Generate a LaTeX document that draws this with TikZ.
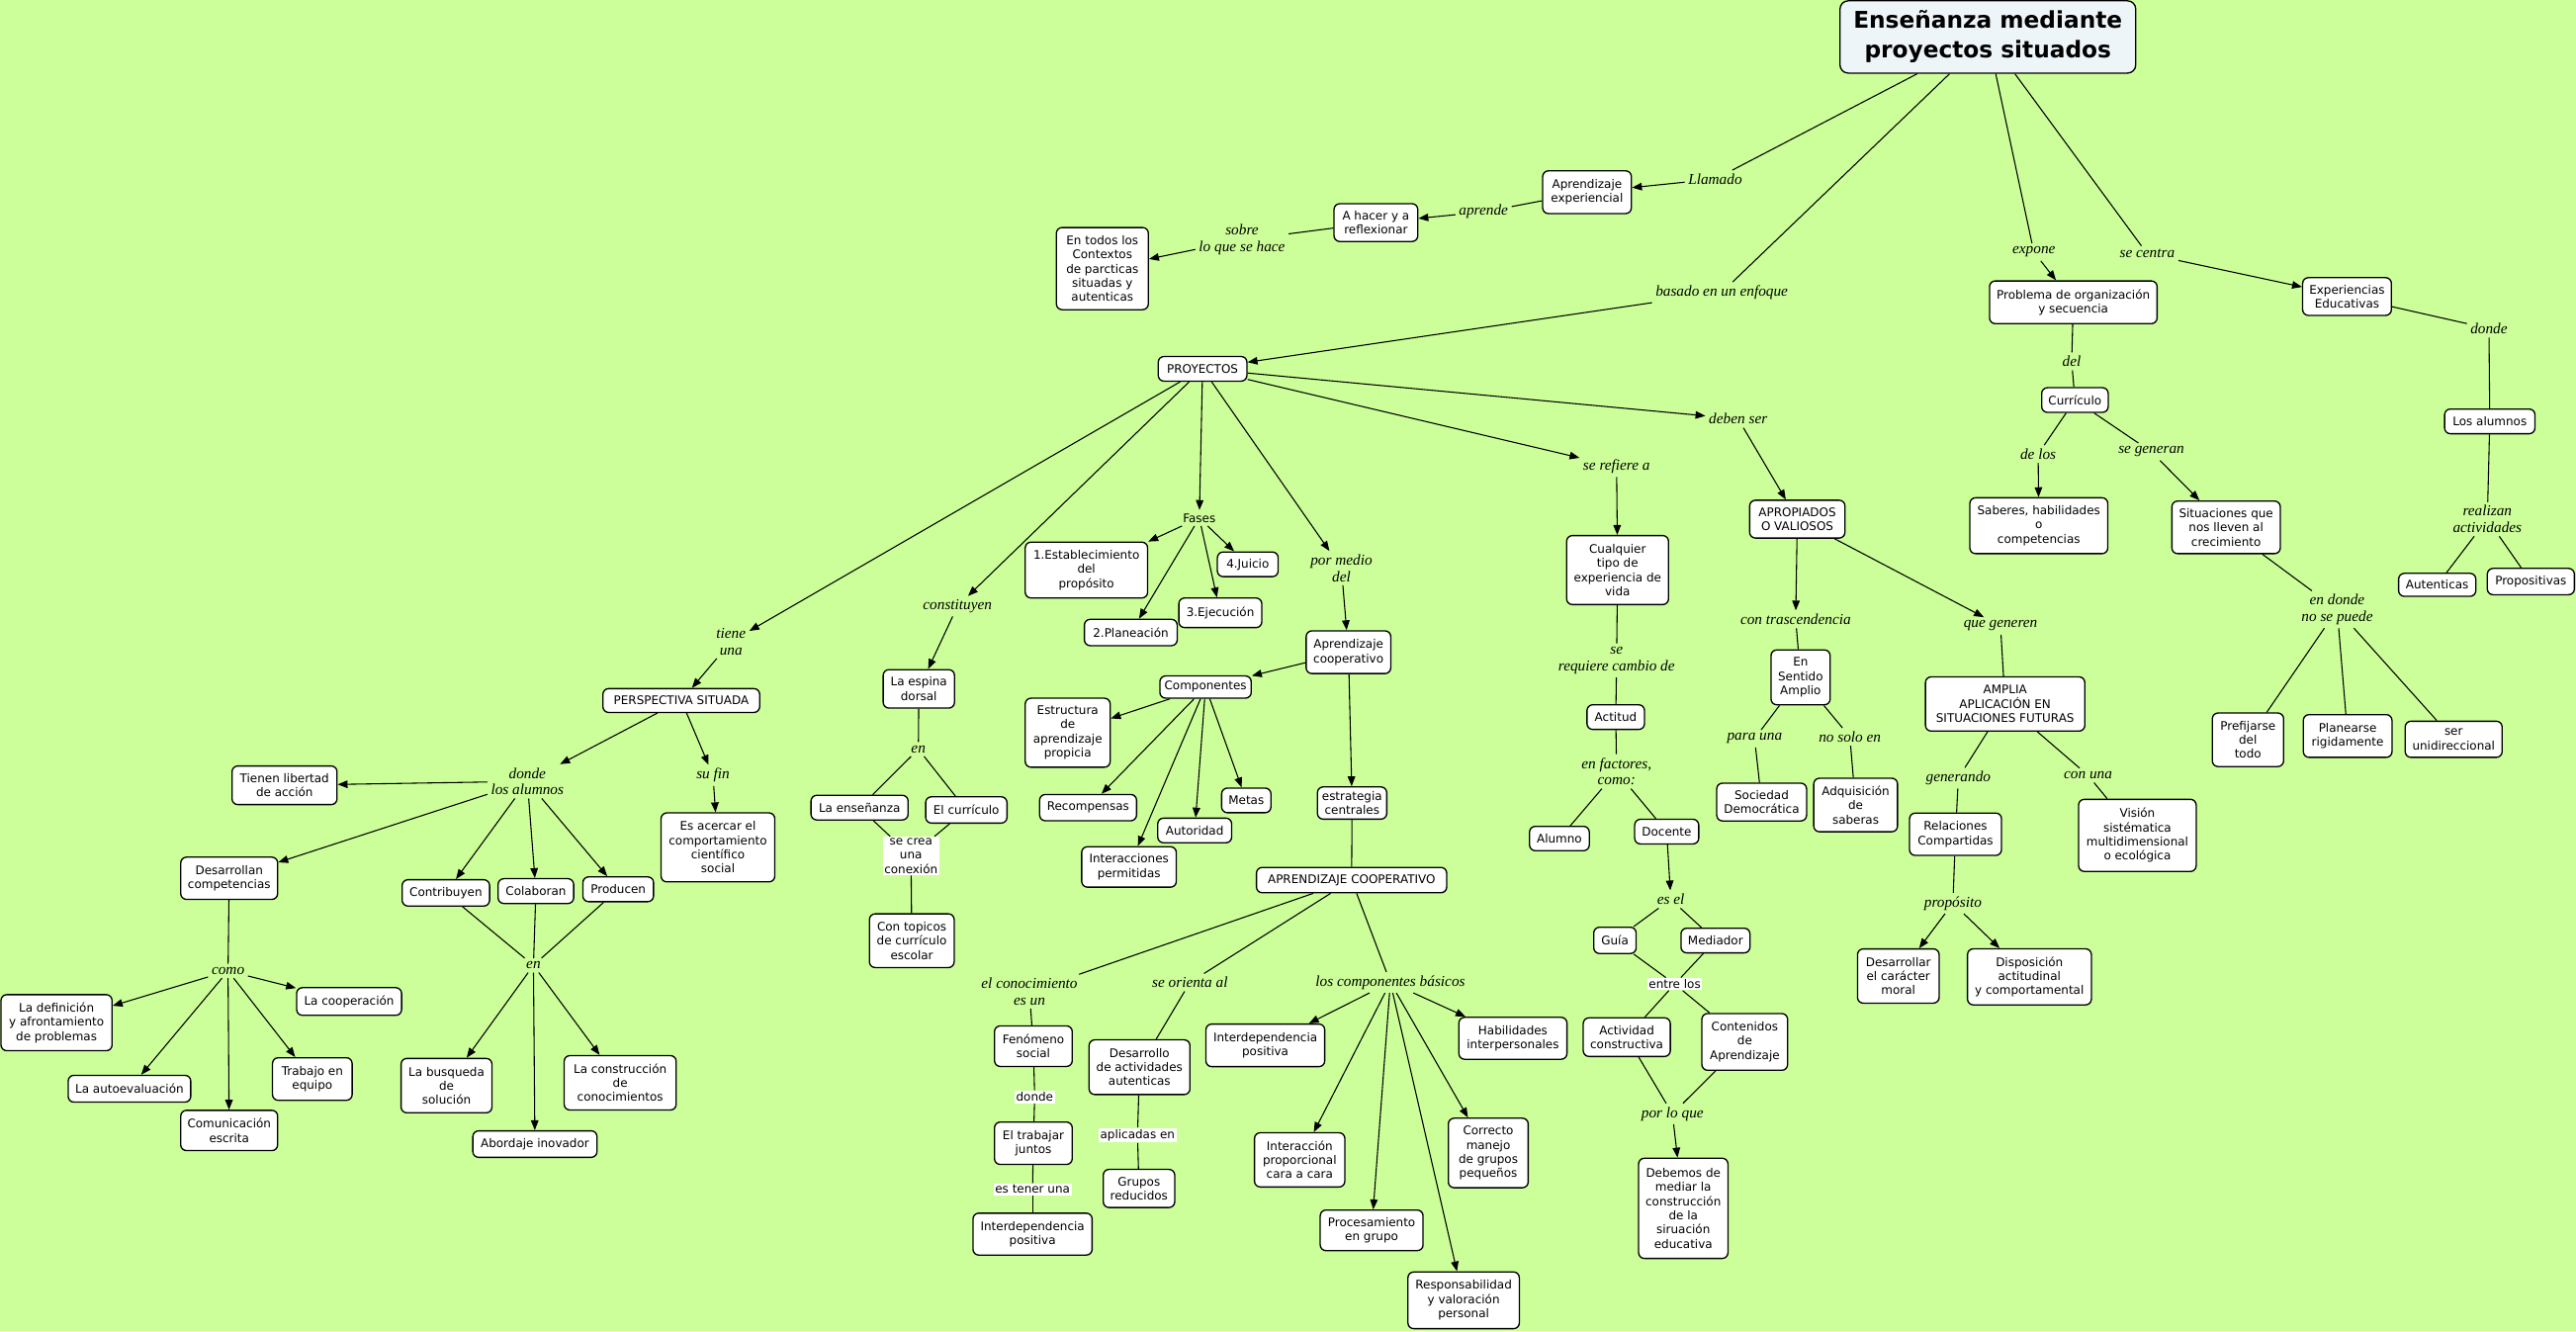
\documentclass[tikz,border=0pt]{standalone}
\usepackage{fontspec}
\setmainfont{DejaVu Sans}
\newfontfamily\linkfont{Liberation Serif}
\usetikzlibrary{arrows.meta}
\definecolor{bgc}{HTML}{CCFF99}
\definecolor{titlefill}{HTML}{EEF5F9}
\begin{document}
\begin{tikzpicture}[x=1pt,y=-1pt,
 cbox/.style={draw=black, line width=0.8pt, fill=white, rounded corners=3.5pt, align=center,
   font=\fontsize{7.2}{8.6}\selectfont, inner xsep=1.5pt, inner ysep=1pt},
 wh/.style 2 args={minimum width=#1pt, minimum height=#2pt},
 lnk/.style={align=center, font=\fontsize{9.2}{10}\selectfont\linkfont\itshape, inner sep=2pt},
 wlnk/.style={align=center, fill=white, font=\fontsize{7.2}{8.6}\selectfont, inner sep=1pt},
 bare/.style={align=center, font=\fontsize{7.2}{8.6}\selectfont, inner sep=2pt},
 con/.style={line width=0.65pt},
 arr/.style={con, -{Triangle[length=6pt,width=4.6pt]}},
]
\fill[bgc] (0,0) rectangle (1568,810.4);
\useasboundingbox (0,0) rectangle (1568,810.4);

% ---------- top ----------
\node[draw=black, line width=0.8pt, fill=titlefill, rounded corners=5pt, minimum width=180pt, minimum height=44pt,
  align=center, font=\fontsize{14}{18}\selectfont\bfseries] (title) at (1210,22.5) {Enseñanza mediante\\proyectos situados};
\node[lnk] (llamado) at (1044,109) {Llamado};
\node[cbox, wh={54}{26}] (apexp) at (966,117) {Aprendizaje\\experiencial};
\node[lnk] (aprende) at (903,129) {aprende};
\node[cbox, wh={51}{23}] (ahacer) at (837.5,135.5) {A hacer y a\\reflexionar};
\node[lnk] (sobre) at (756,146) {sobre\\lo que se hace};
\node[cbox, wh={56}{50}] (entodos) at (671,163.5) {En todos los\\Contextos\\de parcticas\\situadas y\\autenticas};
\node[lnk] (basado) at (1048,178) {basado en un enfoque};
\node[cbox, wh={54}{15}] (proy) at (732,224.5) {PROYECTOS};
\node[lnk] (expone) at (1238,153.5) {expone};
\node[lnk] (secentra) at (1307,154.5) {se centra};
\node[cbox, wh={102}{26}] (problema) at (1262,184) {Problema de organización\\y secuencia};
\node[cbox, wh={54}{23}] (expe) at (1428.6,180.5) {Experiencias\\Educativas};
\node[lnk] (dondeA) at (1515,200) {donde};
\node[cbox, wh={55}{15}] (losal) at (1515.5,256.5) {Los alumnos};
\node[lnk] (realizan) at (1514,316) {realizan\\actividades};
\node[cbox, wh={47}{14}] (autent) at (1483.5,356) {Autenticas};
\node[cbox, wh={53}{16}] (propos) at (1540.5,354) {Propositivas};
\node[lnk] (del) at (1261,220) {del};
\node[cbox, wh={40.5}{15}] (curri) at (1263,243.5) {Currículo};
\node[lnk] (delos) at (1240.6,276.4) {de los};
\node[lnk] (segeneran) at (1309.5,275) {se generan};
\node[cbox, wh={84}{34}] (saberes) at (1241,320) {Saberes, habilidades\\o\\competencias};
\node[cbox, wh={66}{32}] (situac) at (1355,321) {Situaciones que\\nos lleven al\\crecimiento};
\node[lnk] (endonde) at (1422.6,371) {en donde\\no se puede};
\node[cbox, wh={43.4}{32.6}] (prefij) at (1368.3,450.3) {Prefijarse\\del\\todo};
\node[cbox, wh={54}{26}] (planea) at (1429,448) {Planearse\\rigidamente};
\node[cbox, wh={59}{22}] (serun) at (1493.5,450) {ser\\unidireccional};

% ---------- middle right ----------
\node[lnk] (debenser) at (1058,255) {deben ser};
\node[cbox, wh={58}{23}] (apropi) at (1094,316) {APROPIADOS\\O VALIOSOS};
\node[lnk] (contras) at (1093,377) {con trascendencia};
\node[cbox, wh={36}{33.4}] (sentido) at (1096,412.3) {En\\Sentido\\Amplio};
\node[lnk] (parauna) at (1068,449.6) {para una};
\node[lnk] (nosolo) at (1126,448.5) {no solo en};
\node[cbox, wh={54.7}{23}] (sociedad) at (1072.3,488.2) {Sociedad\\Democrática};
\node[cbox, wh={51}{32.6}] (adquis) at (1129.5,490) {Adquisición\\de\\saberas};
\node[lnk] (quegeneren) at (1217.7,381) {que generen};
\node[cbox, wh={97}{33}] (amplia) at (1220.5,428.5) {AMPLIA\\APLICACIÓN EN\\SITUACIONES FUTURAS};
\node[lnk] (generando) at (1192,473.6) {generando};
\node[lnk] (conuna) at (1271,472) {con una};
\node[cbox, wh={56}{25.8}] (relac) at (1190.3,507.8) {Relaciones\\Compartidas};
\node[cbox, wh={71.6}{43.9}] (vision) at (1301,508.5) {Visión\\sistématica\\multidimensional\\o ecológica};
\node[lnk] (proposito) at (1188.7,549.8) {propósito};
\node[cbox, wh={49.7}{33}] (desarr) at (1155.5,594.1) {Desarrollar\\el carácter\\moral};
\node[cbox, wh={75.4}{34.1}] (dispos) at (1235.3,594.6) {Disposición\\actitudinal\\y comportamental};

\node[lnk] (serefiere) at (984,284) {se refiere a};
\node[cbox, wh={62}{42}] (cualq) at (984.6,347) {Cualquier\\tipo de\\experiencia de\\vida};
\node[lnk] (serequiere) at (984,402) {se\\requiere cambio de};
\node[cbox, wh={35}{15}] (actitud) at (983.5,436.5) {Actitud};
\node[lnk] (enfactores) at (984,469.6) {en factores,\\como:};
\node[cbox, wh={36.4}{14.8}] (alumno) at (949.2,510.4) {Alumno};
\node[cbox, wh={39}{15}] (docente) at (1014.5,506.2) {Docente};
\node[lnk] (esel) at (1017,547.4) {es el};
\node[cbox, wh={25.8}{16}] (guia) at (983,572.4) {Guía};
\node[cbox, wh={42}{15}] (mediador) at (1044.2,572.5) {Mediador};
\node[wlnk] (entrelos) at (1019.4,599) {entre los};
\node[cbox, wh={53}{23.5}] (activ) at (990.2,631.3) {Actividad\\constructiva};
\node[cbox, wh={52.2}{34.5}] (conten) at (1062,634.2) {Contenidos\\de\\Aprendizaje};
\node[lnk] (porloque) at (1018,678) {por lo que};
\node[cbox, wh={54.4}{61}] (debemos) at (1024.6,735.5) {Debemos de\\mediar la\\construcción\\de la\\siruación\\educativa};

% ---------- PROYECTOS subtree ----------
\node[bare] (fases) at (730,315.3) {Fases};
\node[cbox, wh={74.5}{34}] (est1) at (661.3,347) {1.Establecimiento\\del\\propósito};
\node[cbox, wh={56.5}{16}] (pla2) at (688.3,385) {2.Planeación};
\node[cbox, wh={50.5}{18}] (eje3) at (742.8,373) {3.Ejecución};
\node[cbox, wh={37}{15}] (jui4) at (759.5,343.5) {4.Juicio};
\node[lnk] (pormedio) at (816.5,345.8) {por medio\\del};
\node[cbox, wh={51.5}{26}] (apcoop) at (820.8,397) {Aprendizaje\\cooperativo};
\node[cbox, wh={55.6}{13.5}] (compon) at (733.8,418.2) {Componentes};
\node[cbox, wh={51.7}{42}] (estruc) at (649.9,446) {Estructura\\de\\aprendizaje\\propicia};
\node[cbox, wh={59}{16}] (recomp) at (662.3,491.6) {Recompensas};
\node[cbox, wh={57.6}{24.6}] (interper) at (687.2,527.7) {Interacciones\\permitidas};
\node[cbox, wh={45}{15}] (autori) at (727.2,505.5) {Autoridad};
\node[cbox, wh={30}{15}] (metas) at (758.6,487.2) {Metas};
\node[cbox, wh={42.2}{19.6}] (estrat) at (823,488.8) {estrategia\\centrales};
\node[cbox, wh={115.8}{15.4}] (apcoop2) at (822.7,535.7) {APRENDIZAJE COOPERATIVO};
\node[lnk] (conocim) at (626.6,603.5) {el conocimiento\\es un};
\node[lnk] (orienta) at (724.3,598) {se orienta al};
\node[lnk] (componb) at (846.3,598) {los componentes básicos};
\node[cbox, wh={47.3}{24.7}] (fenom) at (629,636.8) {Fenómeno\\social};
\node[wlnk] (dondeB) at (629.8,667.7) {donde};
\node[cbox, wh={47.3}{25.8}] (trabaj) at (629,695.9) {El trabajar\\juntos};
\node[wlnk] (estener) at (628.5,723.9) {es tener una};
\node[cbox, wh={72.5}{25.5}] (interd1) at (628.5,751.2) {Interdependencia\\positiva};
\node[cbox, wh={61.4}{33.3}] (desact) at (693.6,649.6) {Desarrollo\\de actividades\\autenticas};
\node[wlnk] (aplicadas) at (692.4,691) {aplicadas en};
\node[cbox, wh={43.5}{23.2}] (grupos) at (693.3,723.4) {Grupos\\reducidos};
\node[cbox, wh={72.3}{25.9}] (interd2) at (770.2,636.3) {Interdependencia\\positiva};
\node[cbox, wh={55}{33}] (interac) at (791.1,706) {Interacción\\proporcional\\cara a cara};
\node[cbox, wh={62.6}{24.7}] (proces) at (834.9,748.9) {Procesamiento\\en grupo};
\node[cbox, wh={67.8}{34.5}] (respon) at (890.9,791.5) {Responsabilidad\\y valoración\\personal};
\node[cbox, wh={48.6}{42.3}] (correc) at (905.9,701.8) {Correcto\\manejo\\de grupos\\pequeños};
\node[cbox, wh={65.8}{25.5}] (habil) at (920.9,632) {Habilidades\\interpersonales};

\node[lnk] (constit) at (582.8,369) {constituyen};
\node[cbox, wh={43.4}{23.4}] (espina) at (559.3,419.3) {La espina\\dorsal};
\node[lnk] (enA) at (559,456) {en};
\node[cbox, wh={59.1}{15}] (ensen) at (523.2,491.6) {La enseñanza};
\node[cbox, wh={49.5}{16}] (curri2) at (588.2,493) {El currículo};
\node[wlnk] (secrea) at (554.5,521) {se crea\\una\\conexión};
\node[cbox, wh={51.6}{32.7}] (topic) at (555,572.6) {Con topicos\\de currículo\\escolar};

% ---------- left ----------
\node[lnk] (tiene) at (445,390.5) {tiene\\una};
\node[cbox, wh={95.4}{14.5}] (perspec) at (414.7,426.4) {PERSPECTIVA SITUADA};
\node[lnk] (sufin) at (434,472) {su fin};
\node[cbox, wh={69.2}{42}] (acercar) at (437,515.8) {Es acercar el\\comportamiento\\científico\\social};
\node[lnk] (dondealum) at (321,475.6) {donde\\los alumnos};
\node[cbox, wh={63.9}{23.5}] (tienen) at (173.2,478) {Tienen libertad\\de acción};
\node[cbox, wh={59}{25.7}] (desarrl) at (139.5,534.6) {Desarrollan\\competencias};
\node[cbox, wh={53.2}{16}] (contrib) at (271.4,543.5) {Contribuyen};
\node[cbox, wh={46}{15.1}] (colab) at (326.2,542.4) {Colaboran};
\node[cbox, wh={43}{15.1}] (produ) at (376.3,541.3) {Producen};
\node[lnk] (como) at (138.8,591) {como};
\node[cbox, wh={67.6}{34.1}] (defin) at (34.4,622.5) {La definición\\y afrontamiento\\de problemas};
\node[cbox, wh={74.6}{16.3}] (autoev) at (78.8,662.7) {La autoevaluación};
\node[cbox, wh={59}{24.5}] (comuni) at (139.5,688.1) {Comunicación\\escrita};
\node[cbox, wh={48.5}{25.9}] (trabeq) at (190.1,656.8) {Trabajo en\\equipo};
\node[cbox, wh={63.9}{16.8}] (cooper) at (212.5,609.6) {La cooperación};
\node[lnk] (enB) at (324.7,587.6) {en};
\node[cbox, wh={55.3}{33.1}] (busq) at (271.8,660.8) {La busqueda\\de\\solución};
\node[cbox, wh={75.6}{16.1}] (abord) at (325.6,696.4) {Abordaje inovador};
\node[cbox, wh={68.2}{33.1}] (constr) at (377.5,659.1) {La construcción\\de\\conocimientos};

% ---------- connectors ----------
\draw[con] (title) -- (llamado);
\draw[arr] (llamado) -- (apexp);
\draw[con] (apexp) -- (aprende);
\draw[arr] (aprende) -- (ahacer);
\draw[con] (ahacer) -- (sobre);
\draw[arr] (sobre) -- (entodos);
\draw[con] (title) -- (basado);
\draw[arr] (basado) -- (proy);
\draw[con] (title) -- (expone);
\draw[arr] (expone) -- (problema);
\draw[con] (title) -- (secentra);
\draw[arr] (secentra) -- (expe);
\draw[con] (problema) -- (del);
\draw[con] (del) -- (curri);
\draw[con] (curri) -- (delos);
\draw[arr] (delos) -- (saberes);
\draw[con] (curri) -- (segeneran);
\draw[arr] (segeneran) -- (situac);
\draw[con] (situac) -- (endonde);
\draw[con] (endonde) -- (prefij);
\draw[con] (endonde) -- (planea);
\draw[con] (endonde) -- (serun);
\draw[con] (expe) -- (dondeA);
\draw[con] (dondeA) -- (losal);
\draw[con] (losal) -- (realizan);
\draw[con] (realizan) -- (autent);
\draw[con] (realizan) -- (propos);

\draw[arr] (proy) -- (debenser);
\draw[arr] (debenser) -- (apropi);
\draw[arr] (apropi) -- (contras);
\draw[con] (contras) -- (sentido);
\draw[con] (sentido) -- (parauna);
\draw[con] (parauna) -- (sociedad);
\draw[con] (sentido) -- (nosolo);
\draw[con] (nosolo) -- (adquis);
\draw[arr] (apropi) -- (quegeneren);
\draw[con] (quegeneren) -- (amplia);
\draw[con] (amplia) -- (generando);
\draw[con] (generando) -- (relac);
\draw[con] (amplia) -- (conuna);
\draw[con] (conuna) -- (vision);
\draw[con] (relac) -- (proposito);
\draw[arr] (proposito) -- (desarr);
\draw[arr] (proposito) -- (dispos);

\draw[arr] (proy) -- (serefiere);
\draw[arr] (serefiere) -- (cualq);
\draw[con] (cualq) -- (serequiere);
\draw[con] (serequiere) -- (actitud);
\draw[con] (actitud) -- (enfactores);
\draw[con] (enfactores) -- (alumno);
\draw[con] (enfactores) -- (docente);
\draw[arr] (docente) -- (esel);
\draw[con] (esel) -- (guia);
\draw[con] (esel) -- (mediador);
\draw[con] (guia) -- (entrelos);
\draw[con] (mediador) -- (entrelos);
\draw[con] (entrelos) -- (activ);
\draw[con] (entrelos) -- (conten);
\draw[con] (activ) -- (porloque);
\draw[con] (conten) -- (porloque);
\draw[arr] (porloque) -- (debemos);

\draw[arr] (proy) -- (fases);
\draw[arr] (fases) -- (est1);
\draw[arr] (fases) -- (pla2);
\draw[arr] (fases) -- (eje3);
\draw[arr] (fases) -- (jui4);
\draw[arr] (proy) -- (pormedio);
\draw[arr] (pormedio) -- (apcoop);
\draw[arr] (apcoop) -- (compon);
\draw[arr] (compon) -- (estruc);
\draw[arr] (compon) -- (recomp);
\draw[arr] (compon) -- (interper);
\draw[arr] (compon) -- (autori);
\draw[arr] (compon) -- (metas);
\draw[arr] (apcoop) -- (estrat);
\draw[con] (estrat) -- (apcoop2);
\draw[con] (apcoop2) -- (conocim);
\draw[con] (apcoop2) -- (orienta);
\draw[con] (apcoop2) -- (componb);
\draw[con] (conocim) -- (fenom);
\draw[con] (fenom) -- (dondeB);
\draw[con] (dondeB) -- (trabaj);
\draw[con] (trabaj) -- (estener);
\draw[con] (estener) -- (interd1);
\draw[con] (orienta) -- (desact);
\draw[con] (desact) -- (aplicadas);
\draw[con] (aplicadas) -- (grupos);
\draw[arr] (componb) -- (interd2);
\draw[arr] (componb) -- (interac);
\draw[arr] (componb) -- (proces);
\draw[arr] (componb) -- (respon);
\draw[arr] (componb) -- (correc);
\draw[arr] (componb) -- (habil);

\draw[arr] (proy) -- (constit);
\draw[arr] (constit) -- (espina);
\draw[con] (espina) -- (enA);
\draw[con] (enA) -- (ensen);
\draw[con] (enA) -- (curri2);
\draw[con] (ensen) -- (secrea);
\draw[con] (curri2) -- (secrea);
\draw[con] (secrea) -- (topic);

\draw[arr] (proy) -- (tiene);
\draw[arr] (tiene) -- (perspec);
\draw[arr] (perspec) -- (dondealum);
\draw[arr] (perspec) -- (sufin);
\draw[arr] (sufin) -- (acercar);
\draw[arr] (dondealum) -- (tienen);
\draw[arr] (dondealum) -- (desarrl);
\draw[arr] (dondealum) -- (contrib);
\draw[arr] (dondealum) -- (colab);
\draw[arr] (dondealum) -- (produ);
\draw[con] (desarrl) -- (como);
\draw[arr] (como) -- (defin);
\draw[arr] (como) -- (autoev);
\draw[arr] (como) -- (comuni);
\draw[arr] (como) -- (trabeq);
\draw[arr] (como) -- (cooper);
\draw[con] (contrib) -- (enB);
\draw[con] (colab) -- (enB);
\draw[con] (produ) -- (enB);
\draw[arr] (enB) -- (busq);
\draw[arr] (enB) -- (abord);
\draw[arr] (enB) -- (constr);
\end{tikzpicture}
\end{document}
